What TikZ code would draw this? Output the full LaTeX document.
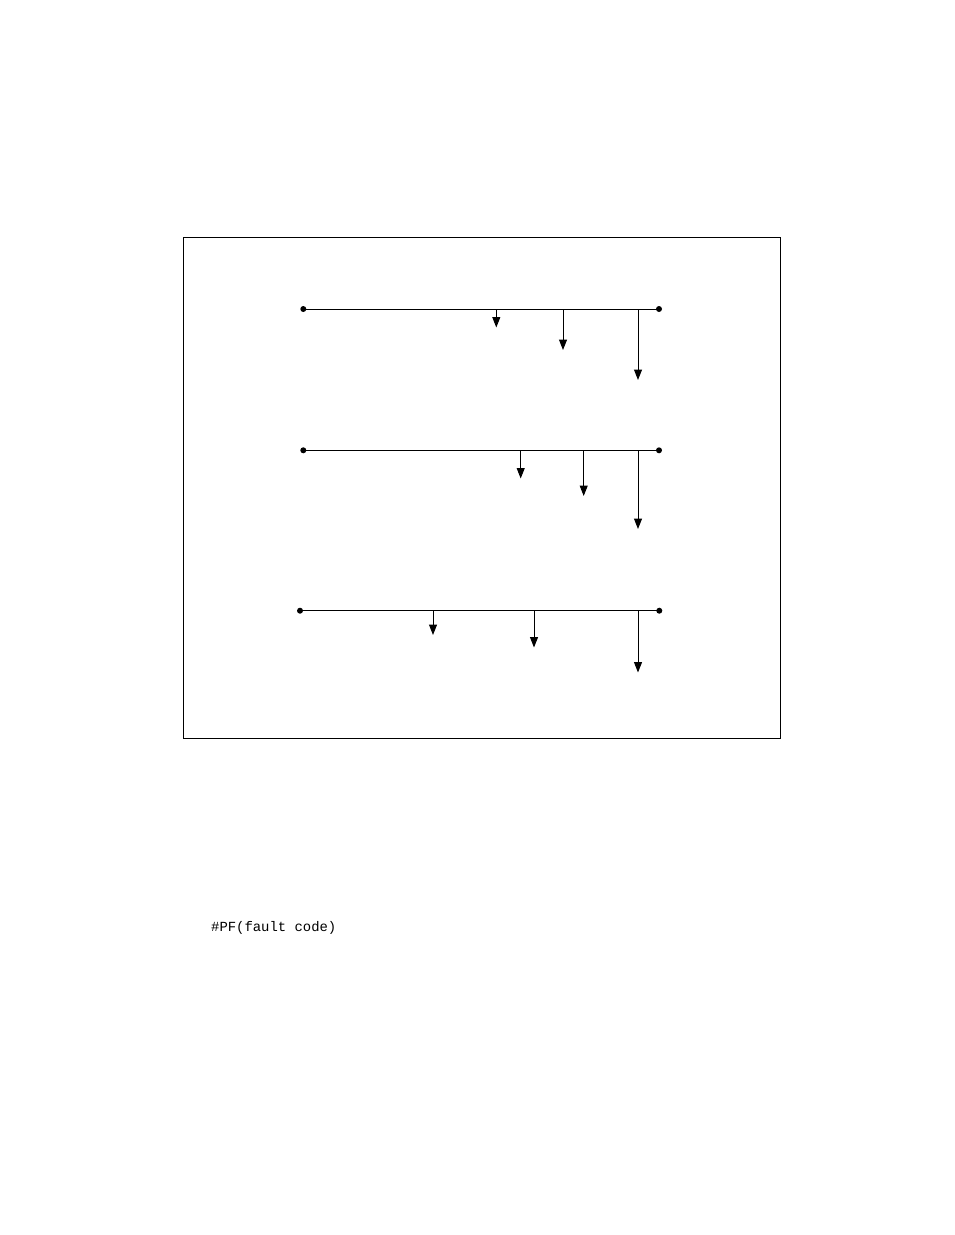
\documentclass[tikz,border=0pt]{standalone}
\usepackage{fontspec}
\setmonofont{Liberation Mono}
\usetikzlibrary{arrows.meta}
\begin{document}
\begin{tikzpicture}[x=1pt,y=-1pt,
  bus/.style={line width=1pt},
  drop/.style={line width=1pt,-{Triangle[length=10.5pt,width=8pt]}},
  enddot/.style={fill=black,draw=none},
  label/.style={font=\ttfamily\fontsize{13.9}{16}\selectfont,anchor=west,inner sep=0pt}]
\useasboundingbox (0,0) rectangle (954,1235);
\node[draw,line width=0.8pt,minimum width=597pt,minimum height=501pt,anchor=north west,inner sep=0pt] (frame) at (183.3,237.3) {};
% row 1
\coordinate (a1) at (303.3,309); \coordinate (b1) at (659,309);
\draw[bus] (a1) -- (b1);
\fill[enddot] (a1) circle (3pt); \fill[enddot] (b1) circle (3pt);
\coordinate (s11) at (496.3,309); \coordinate (t11) at (496.3,327.5);
\coordinate (s12) at (563,309); \coordinate (t12) at (563,350);
\coordinate (s13) at (638,309); \coordinate (t13) at (638,380);
\draw[drop] (s11) -- (t11);
\draw[drop] (s12) -- (t12);
\draw[drop] (s13) -- (t13);
% row 2
\coordinate (a2) at (303.3,450.3); \coordinate (b2) at (659,450.3);
\draw[bus] (a2) -- (b2);
\fill[enddot] (a2) circle (3pt); \fill[enddot] (b2) circle (3pt);
\coordinate (s21) at (520.7,450.3); \coordinate (t21) at (520.7,478.5);
\coordinate (s22) at (583.7,450.3); \coordinate (t22) at (583.7,496);
\coordinate (s23) at (638,450.3); \coordinate (t23) at (638,529);
\draw[drop] (s21) -- (t21);
\draw[drop] (s22) -- (t22);
\draw[drop] (s23) -- (t23);
% row 3
\coordinate (a3) at (300,610.7); \coordinate (b3) at (659.3,610.7);
\draw[bus] (a3) -- (b3);
\fill[enddot] (a3) circle (3pt); \fill[enddot] (b3) circle (3pt);
\coordinate (s31) at (433,610.7); \coordinate (t31) at (433,635);
\coordinate (s32) at (534,610.7); \coordinate (t32) at (534,647.5);
\coordinate (s33) at (638,610.7); \coordinate (t33) at (638,672.5);
\draw[drop] (s31) -- (t31);
\draw[drop] (s32) -- (t32);
\draw[drop] (s33) -- (t33);
% text
\node[label] (pf) at (211,928) {\#PF(fault code)};
\end{tikzpicture}
\end{document}
